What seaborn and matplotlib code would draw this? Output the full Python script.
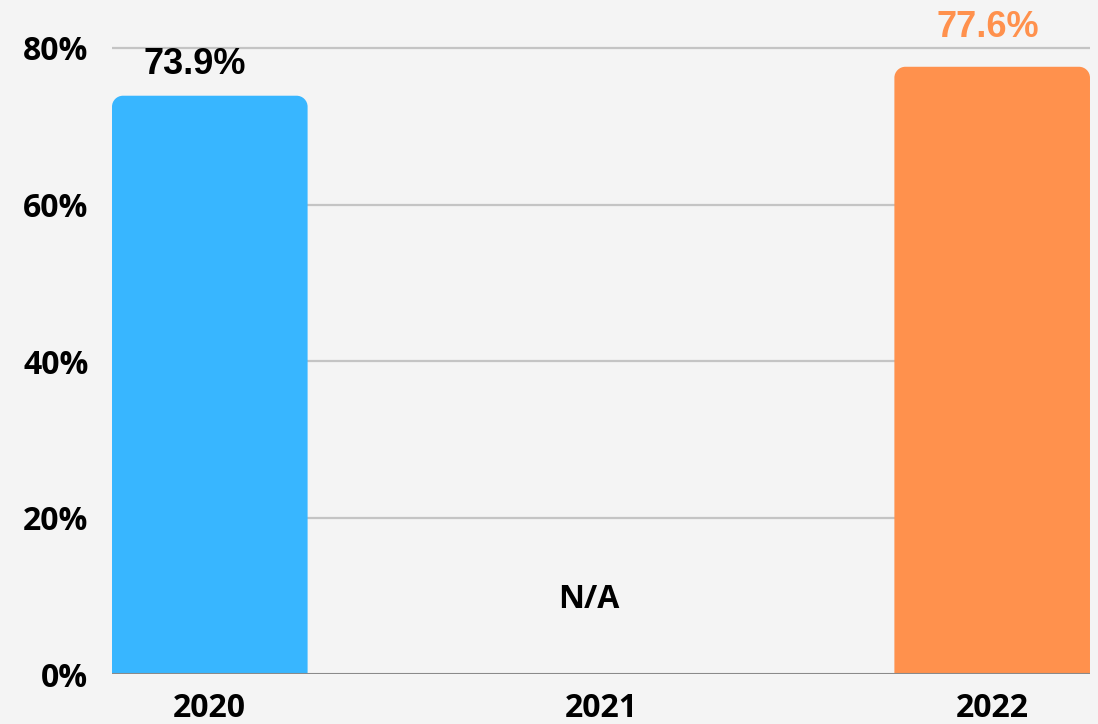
import numpy as np
import pandas as pd
import matplotlib
matplotlib.use("Agg")
import matplotlib.pyplot as plt
from matplotlib.path import Path
from matplotlib.patches import PathPatch
import seaborn as sns

# Share of respondents per survey year (2021 not available)
years = ["2020", "2021", "2022"]
shares = [73.9, np.nan, 77.6]
bar_colors = ["#38b6ff", "#ff914d", "#ff914d"]
label_colors = ["#000000", "#ff914d"]
value_labels = ["73.9%", "77.6%"]
missing_label = "N/A"
y_ticks = [0, 20, 40, 60, 80]
y_tick_labels = ["0%", "20%", "40%", "60%", "80%"]

BG = "#f4f4f4"
sns.set_theme(style="white")
plt.rcParams["font.family"] = ["Open Sans", "DejaVu Sans"]

fig = plt.figure(figsize=(10.98, 7.24), dpi=100, facecolor=BG)
ax = fig.add_axes([0.102, 0.069, 0.8907, 0.8712])
ax.set_facecolor(BG)

df = pd.DataFrame({"year": years, "share": shares})
palette = dict(zip(years, bar_colors))
sns.barplot(data=df, x="year", y="share", hue="year", palette=palette,
            order=years, width=0.5, legend=False, ax=ax, saturation=1)

ax.set_xlim(-0.25, 2.25)
ax.set_ylim(0, 80.6)
ax.set_yticks(y_ticks)
ax.set_yticklabels(y_tick_labels)

# gridlines
for t in y_ticks[1:]:
    ax.axhline(t, color="#c4c4c4", lw=1.6, zorder=0)
ax.axhline(0, color="#8a8a8a", lw=1.5, zorder=3)

for s in ax.spines.values():
    s.set_visible(False)

ax.tick_params(axis="y", length=0, pad=17, labelsize=23)
ax.tick_params(axis="x", length=0, pad=13, labelsize=23)
for lab in ax.get_xticklabels() + ax.get_yticklabels():
    lab.set_fontweight("bold")
    lab.set_color("black")
ax.set_xlabel("")
ax.set_ylabel("")

fig.canvas.draw()

# replace bars with rounded-top versions
def rounded_top(x0, x1, y0, y1, rx, ry):
    k = 0.5523
    verts = [
        (x0, y0), (x0, y1 - ry),
        (x0, y1 - ry + k * ry), (x0 + rx - k * rx, y1), (x0 + rx, y1),
        (x1 - rx, y1),
        (x1 - rx + k * rx, y1), (x1, y1 - ry + k * ry), (x1, y1 - ry),
        (x1, y0), (x0, y0),
    ]
    codes = [Path.MOVETO, Path.LINETO,
             Path.CURVE4, Path.CURVE4, Path.CURVE4,
             Path.LINETO,
             Path.CURVE4, Path.CURVE4, Path.CURVE4,
             Path.LINETO, Path.CLOSEPOLY]
    return Path(verts, codes)

bbox = ax.get_window_extent()
px_per_x = bbox.width / (ax.get_xlim()[1] - ax.get_xlim()[0])
px_per_y = bbox.height / (ax.get_ylim()[1] - ax.get_ylim()[0])
radius_px = 11
rx, ry = radius_px / px_per_x, radius_px / px_per_y

bars = [p for p in ax.patches if p.get_height() > 0 and np.isfinite(p.get_height())]
bars.sort(key=lambda p: p.get_x())
for p in bars:
    x0, w, h = p.get_x(), p.get_width(), p.get_height()
    patch = PathPatch(rounded_top(x0, x0 + w, 0, h, rx, ry),
                      facecolor=p.get_facecolor(), edgecolor="none", zorder=2)
    ax.add_patch(patch)
    p.set_visible(False)

# value labels above bars
offsets_px = [(-15, 14), (-4, 22)]
for p, txt, col, (dx, dy) in zip(bars, value_labels, label_colors, offsets_px):
    ax.annotate(txt, (p.get_x() + p.get_width() / 2, p.get_height()),
                xytext=(dx * 0.72, dy * 0.72), textcoords="offset points",
                ha="center", va="bottom", fontsize=26, fontweight="bold",
                color=col, family=["Liberation Sans", "DejaVu Sans"])

ax.text(0.97, 9.5, missing_label, ha="center", va="center", fontsize=23,
        fontweight="bold", color="black")

fig.savefig("out.png", dpi=100, facecolor=BG)
